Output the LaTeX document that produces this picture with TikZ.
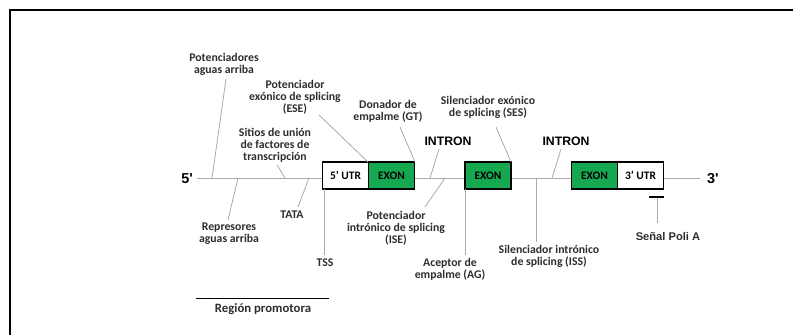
\documentclass[tikz,border=0pt]{standalone}
\usepackage{fontspec}
\setmainfont{Carlito}
\newfontfamily\arialb{Liberation Sans}
\definecolor{exongreen}{RGB}{22,168,80}
\definecolor{conn}{RGB}{170,170,170}
\definecolor{labtxt}{RGB}{45,45,45}
\begin{document}
\begin{tikzpicture}[x=1bp,y=-1bp,
  lab/.style={font=\fontsize{11.8}{12}\selectfont\bfseries, text=labtxt, align=center, inner sep=0pt},
  big/.style={font=\arialb\fontsize{12.3}{14}\selectfont\bfseries, text=black, inner sep=0pt},
  conn/.style={draw=conn, line width=0.8bp},
  boxw/.style={draw=black, line width=1.4bp, fill=white, minimum width=46bp, minimum height=27bp, inner sep=0pt, font=\fontsize{11.5}{13}\selectfont\bfseries},
  boxg/.style={boxw, fill=exongreen}]
\useasboundingbox (0,0) rectangle (793,335);
% frame
\draw[line width=2bp] (10,335) -- (10,10) -- (793,10);
% main line
\coordinate (L) at (197,178);
\coordinate (R) at (700,178);
\draw[conn] (L) -- (R);
\node[big, font=\arialb\fontsize{14.5}{16}\selectfont\bfseries, anchor=east] (five) at (193,179) {5'};
\node[big, font=\arialb\fontsize{14.5}{16}\selectfont\bfseries, anchor=west] (three) at (707,179) {3'};
% boxes
\node[boxw] (utr5) at (345.5,175.5) {5' UTR};
\node[boxg] (ex1) at (391.5,175.5) {EXON};
\node[boxg] (ex2) at (488,175.5) {EXON};
\node[boxg] (ex3) at (594.5,175.5) {EXON};
\node[boxw] (utr3) at (640.5,175.5) {3' UTR};
% labels above
\node[lab] (potup) at (224,64) {Potenciadores\\aguas arriba};
\node[lab] (ese) at (295,97) {Potenciador\\exónico de splicing\\(ESE)};
\node[lab] (gt) at (388,111) {Donador de\\empalme (GT)};
\node[lab] (ses) at (488,107) {Silenciador exónico\\de splicing (SES)};
\node[lab] (sitios) at (275,145) {Sitios de unión\\de factores de\\transcripción};
\node[big] (intr1) at (448,141) {INTRON};
\node[big] (intr2) at (566,141) {INTRON};
% labels below
\node[lab] (rep) at (229,234) {Represores\\aguas arriba};
\node[lab] (tata) at (292,215) {TATA};
\node[lab] (tss) at (325,263) {TSS};
\node[lab] (ise) at (396,228) {Potenciador\\intrónico de splicing\\(ISE)};
\node[lab] (ag) at (450,269) {Aceptor de\\empalme (AG)};
\node[lab] (iss) at (549,256) {Silenciador intrónico\\de splicing (ISS)};
\node[big, font=\arialb\fontsize{11.2}{13}\selectfont\bfseries, text=labtxt] (poli) at (668,237) {Señal Poli A};
\node[lab, font=\fontsize{12.8}{14}\selectfont\bfseries] (prom) at (263,309) {Región promotora};
% connector coordinates
\coordinate (a1) at (226,79);  \coordinate (b1) at (212,178);
\coordinate (a2) at (319,115); \coordinate (b2) at (368,162);
\coordinate (a3) at (400,127); \coordinate (b3) at (415,162);
\coordinate (a4) at (496,127); \coordinate (b4) at (511,162);
\coordinate (a5) at (439,149); \coordinate (b5) at (430,178);
\coordinate (a6) at (561,149); \coordinate (b6) at (552,178);
\coordinate (a7) at (277,165); \coordinate (b7) at (285,178);
\coordinate (a8) at (228,220); \coordinate (b8) at (238,178);
\coordinate (a9) at (298,207); \coordinate (b9) at (309,178);
\coordinate (a10) at (324,255); \coordinate (b10) at (324,189);
\coordinate (a11) at (425,207); \coordinate (b11) at (445,178);
\coordinate (a12) at (465,255); \coordinate (b12) at (465,189);
\coordinate (a13) at (536,242); \coordinate (b13) at (536,178);
\coordinate (a14) at (657,223); \coordinate (b14) at (657,197);
\coordinate (t1) at (649,197); \coordinate (t2) at (664,197);
\coordinate (p1) at (196,298); \coordinate (p2) at (329,298);
\foreach \i in {1,...,14} {\draw[conn] (a\i) -- (b\i);}
\draw[line width=1.2bp] (t1) -- (t2);
\draw[line width=1bp] (p1) -- (p2);
\end{tikzpicture}
\end{document}
